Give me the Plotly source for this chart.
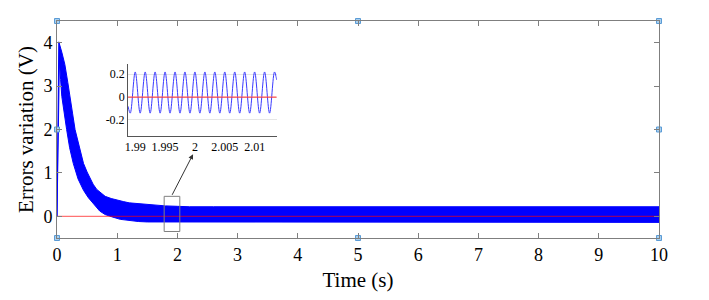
import plotly.graph_objects as go

# ---- main band envelope ----
upper_t = [0.0, 0.03, 0.08, 0.13, 0.18, 0.22, 0.26, 0.30, 0.37, 0.44, 0.50, 0.55, 0.60, 0.66, 0.73, 0.80, 0.90, 1.00, 1.10, 1.20, 1.35, 1.50, 1.65, 1.80, 2.00, 2.20, 2.60, 3.00, 10.0]
upper_v = [0.0, 4.02, 3.78, 3.50, 3.08, 2.76, 2.36, 2.00, 1.58, 1.22, 1.02, 0.87, 0.74, 0.62, 0.53, 0.46, 0.41, 0.37, 0.34, 0.31, 0.29, 0.27, 0.255, 0.24, 0.23, 0.22, 0.22, 0.22, 0.22]
lower_t = [0.0, 0.04, 0.06, 0.08, 0.12, 0.16, 0.21, 0.27, 0.35, 0.44, 0.52, 0.60, 0.66, 0.71, 0.80, 0.93, 1.05, 1.20, 1.35, 1.50, 1.70, 2.00, 10.0]
lower_v = [0.0, 3.60, 3.15, 2.76, 2.35, 2.00, 1.58, 1.22, 0.86, 0.60, 0.43, 0.30, 0.20, 0.12, 0.04, -0.02, -0.07, -0.10, -0.12, -0.13, -0.135, -0.14, -0.14]

# ---- inset waveform (peaks and troughs read from the zoom) ----
inset_t = [1.9888, 1.98917, 1.99000, 1.99083, 1.99167, 1.99250, 1.99333, 1.99417, 1.99500,
           1.99583, 1.99667, 1.99750, 1.99833, 1.99917, 2.00000, 2.00083, 2.00167, 2.00250,
           2.00333, 2.00417, 2.00500, 2.00583, 2.00667, 2.00750, 2.00833, 2.00917, 2.01000,
           2.01083, 2.01167, 2.01250, 2.01333, 2.0137]
inset_v = [-0.08, -0.14, 0.22, -0.14, 0.22, -0.14, 0.22, -0.14, 0.22,
           -0.14, 0.22, -0.14, 0.22, -0.14, 0.22, -0.14, 0.22, -0.14,
           0.22, -0.14, 0.22, -0.14, 0.22, -0.14, 0.22, -0.14, 0.22,
           -0.14, 0.22, -0.14, 0.22, 0.15]

ref_t = [0, 10]
ref_v = [0, 0]
inset_ref_t = [1.9888, 2.0137]

x_ticks = list(range(0, 11))
y_ticks = [0, 1, 2, 3, 4]
inset_xticks = [1.99, 1.995, 2.0, 2.005, 2.01]
inset_xlabels = ["1.99", "1.995", "2", "2.005", "2.01"]
inset_yticks = [-0.2, 0, 0.2]
inset_ylabels = ["-0.2", "0", "0.2"]

x_range = [0, 10]
y_range = [-0.5, 4.5]
handle_x = [x_range[0], x_range[0], x_range[0], 5, 5, x_range[1], x_range[1], x_range[1]]
handle_y = [y_range[0], 2, y_range[1], y_range[1], y_range[0], y_range[1], 2, y_range[0]]

# zoom box region (data coords)
box_x = [1.78, 2.04]
box_y = [-0.35, 0.46]

FONT = "Liberation Serif"
AX = "#7f7f7f"

fig = go.Figure()

band_x = upper_t + lower_t[::-1]
band_y = upper_v + lower_v[::-1]
fig.add_trace(go.Scatter(x=band_x, y=band_y, mode="lines", fill="toself",
                         fillcolor="#0000ff", line=dict(color="#0000ff", width=1),
                         hoverinfo="skip", showlegend=False))
fig.add_trace(go.Scatter(x=ref_t, y=ref_v, mode="lines",
                         line=dict(color="rgba(255,0,0,0.55)", width=1.2), showlegend=False))

# inset
fig.add_trace(go.Scatter(x=inset_t, y=inset_v, mode="lines", line_shape="spline",
                         line=dict(color="#3a3aff", width=1), xaxis="x2", yaxis="y2",
                         showlegend=False))
fig.add_trace(go.Scatter(x=inset_ref_t, y=ref_v, mode="lines",
                         line=dict(color="rgba(255,60,60,0.9)", width=1.2),
                         xaxis="x2", yaxis="y2", showlegend=False))

# selection handles
fig.add_trace(go.Scatter(x=handle_x, y=handle_y, mode="markers", cliponaxis=False,
                         marker=dict(symbol="square", size=5, color="#a8d0f0",
                                     line=dict(color="#5b9bd5", width=1)),
                         showlegend=False, hoverinfo="skip"))

fig.add_shape(type="rect", x0=box_x[0], x1=box_x[1], y0=box_y[0], y1=box_y[1],
              xref="x", yref="y", line=dict(color="#808080", width=1))
fig.add_annotation(x=2.26, y=1.43, ax=1.9, ay=box_y[1], xref="x", yref="y",
                   axref="x", ayref="y", showarrow=True, arrowhead=2, arrowsize=1,
                   arrowwidth=1, arrowcolor="#333333", text="")

# page body has an 8px default margin, so the figure is offset by 8px
fig.update_layout(
    width=701, height=292,
    margin=dict(l=49, r=50, t=13, b=62, autoexpand=False),
    paper_bgcolor="white", plot_bgcolor="white",
    font=dict(family=FONT, color="black"),
    xaxis=dict(range=x_range, tickvals=x_ticks, ticks="inside", ticklen=5,
               tickcolor=AX, linecolor=AX, linewidth=1, mirror="ticks",
               showgrid=False, zeroline=False, tickfont=dict(size=18), automargin=False,
               title=dict(text="Time (s)", font=dict(size=21), standoff=8)),
    yaxis=dict(range=y_range, tickvals=y_ticks, ticks="inside", ticklen=5,
               tickcolor=AX, linecolor=AX, linewidth=1, mirror="ticks",
               showgrid=False, zeroline=False, tickfont=dict(size=18), automargin=False,
               title=dict(text="Errors variation (V)", font=dict(size=21), standoff=4)),
    xaxis2=dict(domain=[0.118, 0.365], anchor="y2", range=[1.9888, 2.0137],
                tickvals=inset_xticks, ticktext=inset_xlabels, ticks="", automargin=False,
                linecolor="#555555", showline=True, showgrid=False, zeroline=False,
                tickfont=dict(size=12)),
    yaxis2=dict(domain=[0.470, 0.802], anchor="x2", range=[-0.34, 0.29],
                tickvals=inset_yticks, ticktext=inset_ylabels, ticks="", automargin=False,
                linecolor="#555555", showline=True, showgrid=True, gridcolor="#e6e6e6",
                zeroline=False, tickfont=dict(size=12)),
)

fig.write_html("out.html")
